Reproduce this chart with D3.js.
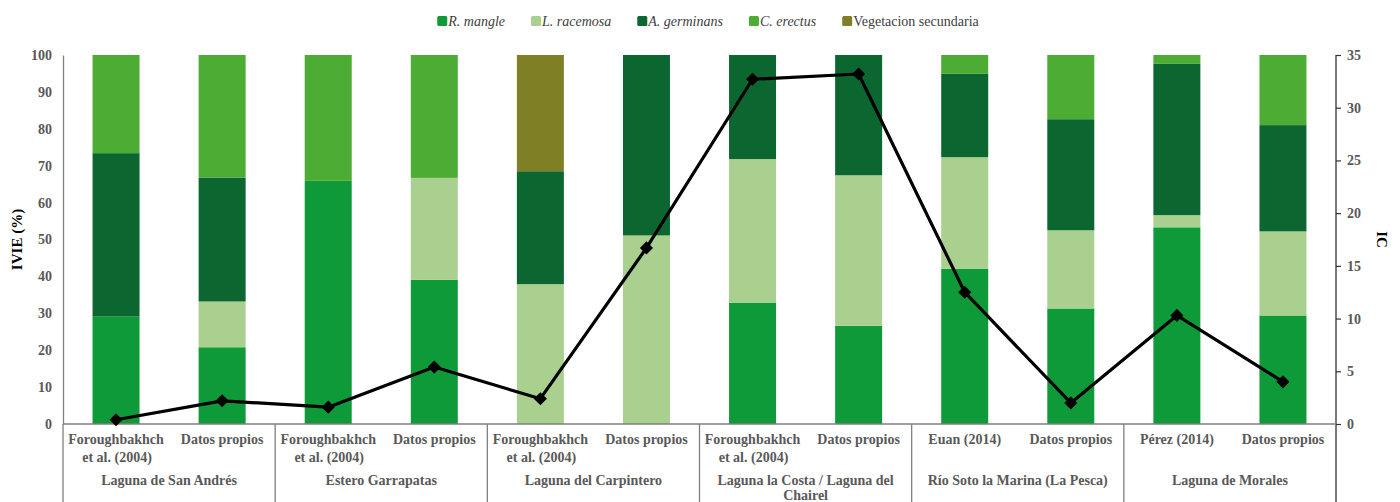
<!DOCTYPE html>
<html>
<head>
<meta charset="utf-8">
<script src="https://cdn.jsdelivr.net/npm/d3@7"></script>
<style>
  html, body { margin: 0; padding: 0; background: #fff; }
  svg { display: block; }
  svg text { font-family: "Liberation Serif", "DejaVu Serif", serif; }
</style>
</head>
<body>
<svg id="chart" width="1400" height="502"></svg>
<script>
// Sources (first label row), with line breaks
const sources = [
  ["Foroughbakhch", "et al. (2004)"], ["Datos propios"],
  ["Foroughbakhch", "et al. (2004)"], ["Datos propios"],
  ["Foroughbakhch", "et al. (2004)"], ["Datos propios"],
  ["Foroughbakhch", "et al. (2004)"], ["Datos propios"],
  ["Euan (2014)"], ["Datos propios"],
  ["Pérez (2014)"], ["Datos propios"]
];
// Sites (second label row), each spans two bars
const sites = [
  ["Laguna de San Andrés"],
  ["Estero Garrapatas"],
  ["Laguna del Carpintero"],
  ["Laguna la Costa / Laguna del", "Chairel"],
  ["Río Soto la Marina (La Pesca)"],
  ["Laguna de Morales"]
];
const speciesNames = ["R. mangle", "L. racemosa", "A. germinans", "C. erectus", "Vegetacion secundaria"];
const speciesColors = ["#0f9a39", "#a9d08e", "#0b6630", "#4cac33", "#7f7f25"];
const speciesItalic = [true, true, true, true, false];

// IVIE (%) per species, one value per bar
const rMangle     = [29.1, 20.8, 65.9, 39.1, 0,    0,    32.9, 26.6, 42.1, 31.3, 53.3, 29.4];
const lRacemosa   = [0,    12.4, 0,    27.6, 37.9, 51.1, 38.9, 40.8, 30.2, 21.2, 3.3,  22.8];
const aGerminans  = [44.3, 33.6, 0,    0,    30.6, 48.9, 28.2, 32.6, 22.6, 30.1, 41.0, 28.8];
const cErectus    = [26.6, 33.2, 34.1, 33.3, 0,    0,    0,    0,    5.1,  17.4, 2.4,  19.0];
const vegSecund   = [0,    0,    0,    0,    31.5, 0,    0,    0,    0,    0,    0,    0];

// IC (right axis)
const icValues = [0.4, 2.2, 1.6, 5.4, 2.4, 16.7, 32.7, 33.2, 12.5, 2.0, 10.3, 4.0];

const leftTicks = [0, 10, 20, 30, 40, 50, 60, 70, 80, 90, 100];
const rightTicks = [0, 5, 10, 15, 20, 25, 30, 35];

const seriesValues = [rMangle, lRacemosa, aGerminans, cErectus, vegSecund];

const svg = d3.select("#chart");
const margin = { left: 63, right: 64, top: 55, bottom: 78 };
const W = 1400, H = 502;
const x0 = margin.left, x1 = W - margin.right;
const yTop = margin.top, yBot = H - margin.bottom;

const idx = d3.range(sources.length);
const x = d3.scaleBand().domain(idx).range([x0, x1]).paddingInner(0.557).paddingOuter(0.2785);
const y = d3.scaleLinear().domain([0, 100]).range([yBot, yTop]);
const yR = d3.scaleLinear().domain([0, 35]).range([yBot, yTop]);

const textGray = "#595959";

// stacked bars
const rows = idx.map(i => {
  const o = { i };
  speciesNames.forEach((s, k) => o[s] = seriesValues[k][i]);
  return o;
});
const stack = d3.stack().keys(speciesNames)(rows);
stack.forEach((layer, k) => {
  svg.append("g").attr("fill", speciesColors[k])
    .selectAll("rect").data(layer).join("rect")
    .attr("x", d => x(d.data.i))
    .attr("width", x.bandwidth())
    .attr("y", d => y(d[1]))
    .attr("height", d => Math.max(0, y(d[0]) - y(d[1])));
});

// left axis
const gL = svg.append("g").attr("transform", `translate(${x0},0)`)
  .call(d3.axisLeft(y).tickValues(leftTicks).tickSize(0).tickPadding(11));
gL.select(".domain").attr("stroke", "#7f7f7f").attr("stroke-width", 1.3);
gL.selectAll("text").attr("font-family", null).attr("font-size", 14)
  .attr("font-weight", "bold").attr("fill", textGray);

// right axis
const gR = svg.append("g").attr("transform", `translate(${x1},0)`)
  .call(d3.axisRight(yR).tickValues(rightTicks).tickSize(5).tickPadding(6));
gR.select(".domain").remove();
gR.append("line").attr("x1", 0).attr("x2", 0).attr("y1", yTop).attr("y2", H).attr("stroke", "#333").attr("stroke-width", 1.3);
gR.selectAll(".tick line").attr("stroke", "#333").attr("stroke-width", 1.2);
gR.selectAll("text").attr("font-family", null).attr("font-size", 14)
  .attr("font-weight", "bold").attr("fill", textGray);

// category frame below the plot
svg.append("line").attr("x1", x0).attr("x2", x1).attr("y1", yBot).attr("y2", yBot)
  .attr("stroke", "#7f7f7f").attr("stroke-width", 1.3);
const step = x.step();
d3.range(sites.length).forEach(g => {
  const xx = x0 + g * 2 * step;
  svg.append("line").attr("x1", xx).attr("x2", xx).attr("y1", yBot).attr("y2", H)
    .attr("stroke", "#7f7f7f").attr("stroke-width", 1.3);
});

// source labels
const srcG = svg.append("g").attr("font-size", 14).attr("font-weight", "bold").attr("fill", textGray).attr("text-anchor", "middle");
sources.forEach((lines, i) => {
  const cx = x(i) + x.bandwidth() / 2;
  lines.forEach((ln, j) => {
    srcG.append("text").attr("x", cx + (j === 1 ? 1 : 0)).attr("y", yBot + 20 + j * 18).text(ln);
  });
});
// site labels
sites.forEach((lines, g) => {
  const cx = x0 + (g * 2 + 1) * step;
  lines.forEach((ln, j) => {
    srcG.append("text").attr("x", cx).attr("y", yBot + 61 + j * 15).text(ln);
  });
});

// IC line with diamond markers
const cxOf = i => x(i) + x.bandwidth() / 2;
svg.append("path").datum(icValues)
  .attr("fill", "none").attr("stroke", "#000").attr("stroke-width", 3.2).attr("stroke-linejoin", "round")
  .attr("d", d3.line().x((d, i) => cxOf(i)).y(d => yR(d)));
svg.append("g").selectAll("path").data(icValues).join("path")
  .attr("d", d3.symbol(d3.symbolDiamond2, 110))
  .attr("transform", (d, i) => `translate(${cxOf(i)},${yR(d)})`)
  .attr("fill", "#000");

// axis titles
svg.append("text").attr("transform", `translate(22,${(yTop + yBot) / 2}) rotate(-90)`)
  .attr("text-anchor", "middle").attr("font-size", 15).attr("font-weight", "bold").attr("fill", "#000")
  .text("IVIE (%)");
svg.append("text").attr("transform", `translate(1377,${(yTop + yBot) / 2}) rotate(90)`)
  .attr("text-anchor", "middle").attr("font-size", 15).attr("font-weight", "bold").attr("fill", "#000")
  .text("IC");

// legend
const leg = svg.append("g");
let lx = 0;
speciesNames.forEach((s, k) => {
  const it = leg.append("g").attr("transform", `translate(${lx},0)`);
  it.append("rect").attr("x", 0).attr("y", -10).attr("width", 10).attr("height", 10).attr("rx", 1.5)
    .attr("fill", speciesColors[k]);
  const t = it.append("text").attr("x", 11).attr("y", 0).attr("font-size", 14)
    .attr("font-style", speciesItalic[k] ? "italic" : "normal").attr("fill", "#404040").text(s);
  lx += 11 + t.node().getComputedTextLength() + 26;
});
const legW = lx - 26;
leg.attr("transform", `translate(${(W - legW) / 2 + 8},26)`);
</script>
</body>
</html>
